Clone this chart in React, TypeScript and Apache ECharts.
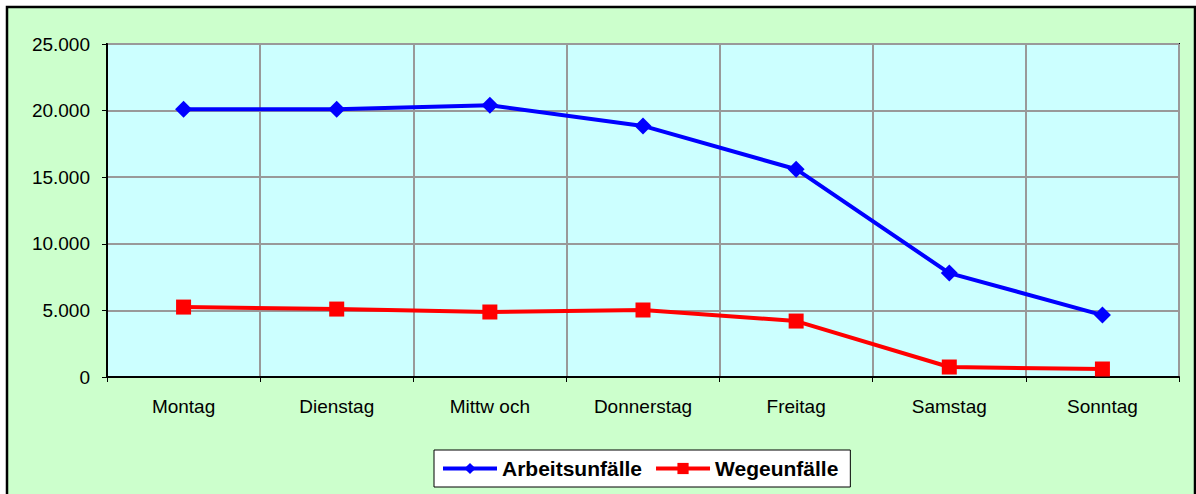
import React, { useEffect, useRef } from "react";
import * as echarts from "echarts";

const categories = ["Montag", "Dienstag", "Mittw och", "Donnerstag", "Freitag", "Samstag", "Sonntag"];
const arbeitsunfaelle = [20100, 20100, 20400, 18850, 15600, 7800, 4650];
const wegeunfaelle = [5250, 5100, 4880, 5030, 4200, 750, 600];
const seriesNames = ["Arbeitsunfälle", "Wegeunfälle"];

const font = "Arial, 'Liberation Sans', sans-serif";

export default function App() {
  const ref = useRef<HTMLDivElement>(null);
  useEffect(() => {
    if (!ref.current) return;
    const chart = echarts.init(ref.current, null, { renderer: "svg" });
    chart.setOption({
      animation: false,
      backgroundColor: "#ffffff",
      graphic: [
        {
          type: "rect",
          z: -10,
          shape: { x: 7, y: 7, width: 1188, height: 520 },
          style: { fill: "#CCFFCC", stroke: "#000000", lineWidth: 2.5 },
        },
      ],
      grid: {
        left: 107,
        top: 44,
        width: 1072,
        height: 333,
        show: true,
        backgroundColor: "#CCFFFF",
        borderColor: "#000000",
        borderWidth: 2,
        z: 0,
      },
      legend: {
        left: 434,
        top: 450,
        itemWidth: 54,
        itemHeight: 14,
        itemGap: 12,
        padding: [8, 12, 8, 7],
        backgroundColor: "#ffffff",
        borderColor: "#000000",
        borderWidth: 1,
        borderRadius: 0,
        lineStyle: { width: 4 },
        textStyle: { fontFamily: font, fontSize: 21, fontWeight: "bold", color: "#000" },
        data: seriesNames,
      },
      xAxis: {
        type: "category",
        data: categories,
        boundaryGap: true,
        axisLine: { lineStyle: { color: "#000", width: 2 } },
        axisTick: { show: true, length: 5, lineStyle: { color: "#000", width: 1 } },
        axisLabel: { fontFamily: font, fontSize: 19, color: "#000", margin: 20 },
        splitLine: { show: true, interval: 0, lineStyle: { color: "#999999", width: 2 } },
      },
      yAxis: {
        type: "value",
        min: 0,
        max: 25000,
        interval: 5000,
        axisLine: { show: true, lineStyle: { color: "#000", width: 2 } },
        axisTick: { show: true, length: 5, lineStyle: { color: "#000", width: 1 } },
        axisLabel: {
          fontFamily: font,
          fontSize: 19,
          color: "#000",
          margin: 17,
          formatter: (v: number) => (v === 0 ? "0" : v.toLocaleString("de-DE")),
        },
        splitLine: { show: true, lineStyle: { color: "#999999", width: 2 } },
      },
      series: [
        {
          name: seriesNames[0],
          type: "line",
          data: arbeitsunfaelle,
          symbol: "diamond",
          symbolSize: 17,
          itemStyle: { color: "#0000FF" },
          lineStyle: { color: "#0000FF", width: 4 },
          z: 5,
        },
        {
          name: seriesNames[1],
          type: "line",
          data: wegeunfaelle,
          symbol: "rect",
          symbolSize: 15,
          itemStyle: { color: "#FF0000" },
          lineStyle: { color: "#FF0000", width: 4 },
          z: 4,
        },
      ],
    });
    return () => chart.dispose();
  }, []);
  return (
    <div
      ref={ref}
      style={{ position: "absolute", left: 0, top: 0, width: 1196, height: 494 }}
    />
  );
}
